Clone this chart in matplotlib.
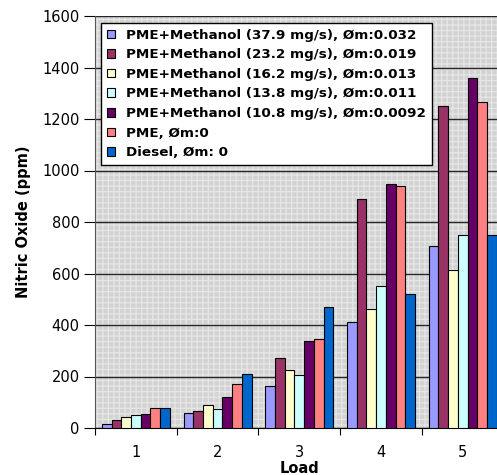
import numpy as np
import matplotlib
matplotlib.use("Agg")
import matplotlib.pyplot as plt

plt.rcParams['font.family'] = ['DejaVu Sans']
plt.rcParams['hatch.linewidth'] = 0.9

loads = ["1", "2", "3", "4", "5"]
labels = ["PME+Methanol (37.9 mg/s), Øm:0.032",
          "PME+Methanol (23.2 mg/s), Øm:0.019",
          "PME+Methanol (16.2 mg/s), Øm:0.013",
          "PME+Methanol (13.8 mg/s), Øm:0.011",
          "PME+Methanol (10.8 mg/s), Øm:0.0092",
          "PME, Øm:0",
          "Diesel, Øm: 0"]
colors = ["#9999FF", "#993366", "#FFFFCC", "#CCFFFF", "#660066", "#FF8080", "#0066CC"]

m379 = [15, 57, 164, 413, 706]
m232 = [33, 67, 271, 890, 1249]
m162 = [43, 91, 226, 461, 612]
m138 = [50, 72, 207, 550, 750]
m108 = [54, 121, 336, 946, 1360]
pme = [76, 172, 346, 941, 1265]
diesel = [76, 211, 471, 522, 751]
series = [m379, m232, m162, m138, m108, pme, diesel]

fig = plt.figure(figsize=(4.97, 4.75), dpi=100)
ax = fig.add_axes([95 / 497, 47 / 475, 408.5 / 497, 412 / 475])
ax.set_facecolor('#d2d2d2')
ax.patch.set_hatch('+++')
ax.patch.set_edgecolor('#e6e6e6')
ax.patch.set_linewidth(0)

x = np.arange(len(loads)) + 1
w = 0.119
for i, (vals, c, lab) in enumerate(zip(series, colors, labels)):
    ax.bar(x + (i - 3) * w, vals, w, color=c, edgecolor='black', linewidth=0.8,
           label=lab, zorder=3)

ax.set_ylim(0, 1600)
ax.set_xlim(0.5, 5.5)
ax.set_yticks(range(0, 1601, 200))
ax.yaxis.grid(True, color='#262626', linewidth=1.0, zorder=1)
ax.set_axisbelow(True)
ax.set_xticks(x)
ax.set_xticklabels(loads)
ax.set_xticks(np.arange(0.5, 5.6, 1), minor=True)
ax.tick_params(axis='x', which='major', length=0, labelsize=10.5, pad=12)
ax.tick_params(axis='x', which='minor', length=5, width=0.8, direction='out')
ax.tick_params(axis='y', length=8, width=0.8, labelsize=10.5, direction='out', pad=3)
for s in ['top', 'right']:
    ax.spines[s].set_visible(False)
ax.spines['left'].set_color('#555555')
ax.spines['bottom'].set_color('black')

ax.set_ylabel("Nitric Oxide (ppm)", fontsize=10.5, fontweight='bold', labelpad=8)
ax.set_xlabel("Load", fontsize=10.5, fontweight='bold', labelpad=1)

leg = ax.legend(loc='upper left', bbox_to_anchor=(0.0147, 0.984), borderaxespad=0,
                prop={'weight': 'bold', 'size': 9.7}, handlelength=0.6, handleheight=0.6,
                handletextpad=0.8, labelspacing=0.49, frameon=True, fancybox=False,
                borderpad=0.45)
leg.get_frame().set_edgecolor('black')
leg.get_frame().set_linewidth(1.0)
leg.get_frame().set_facecolor('white')
leg.get_frame().set_alpha(1)
leg.set_zorder(5)

fig.savefig("out.png", dpi=100)
